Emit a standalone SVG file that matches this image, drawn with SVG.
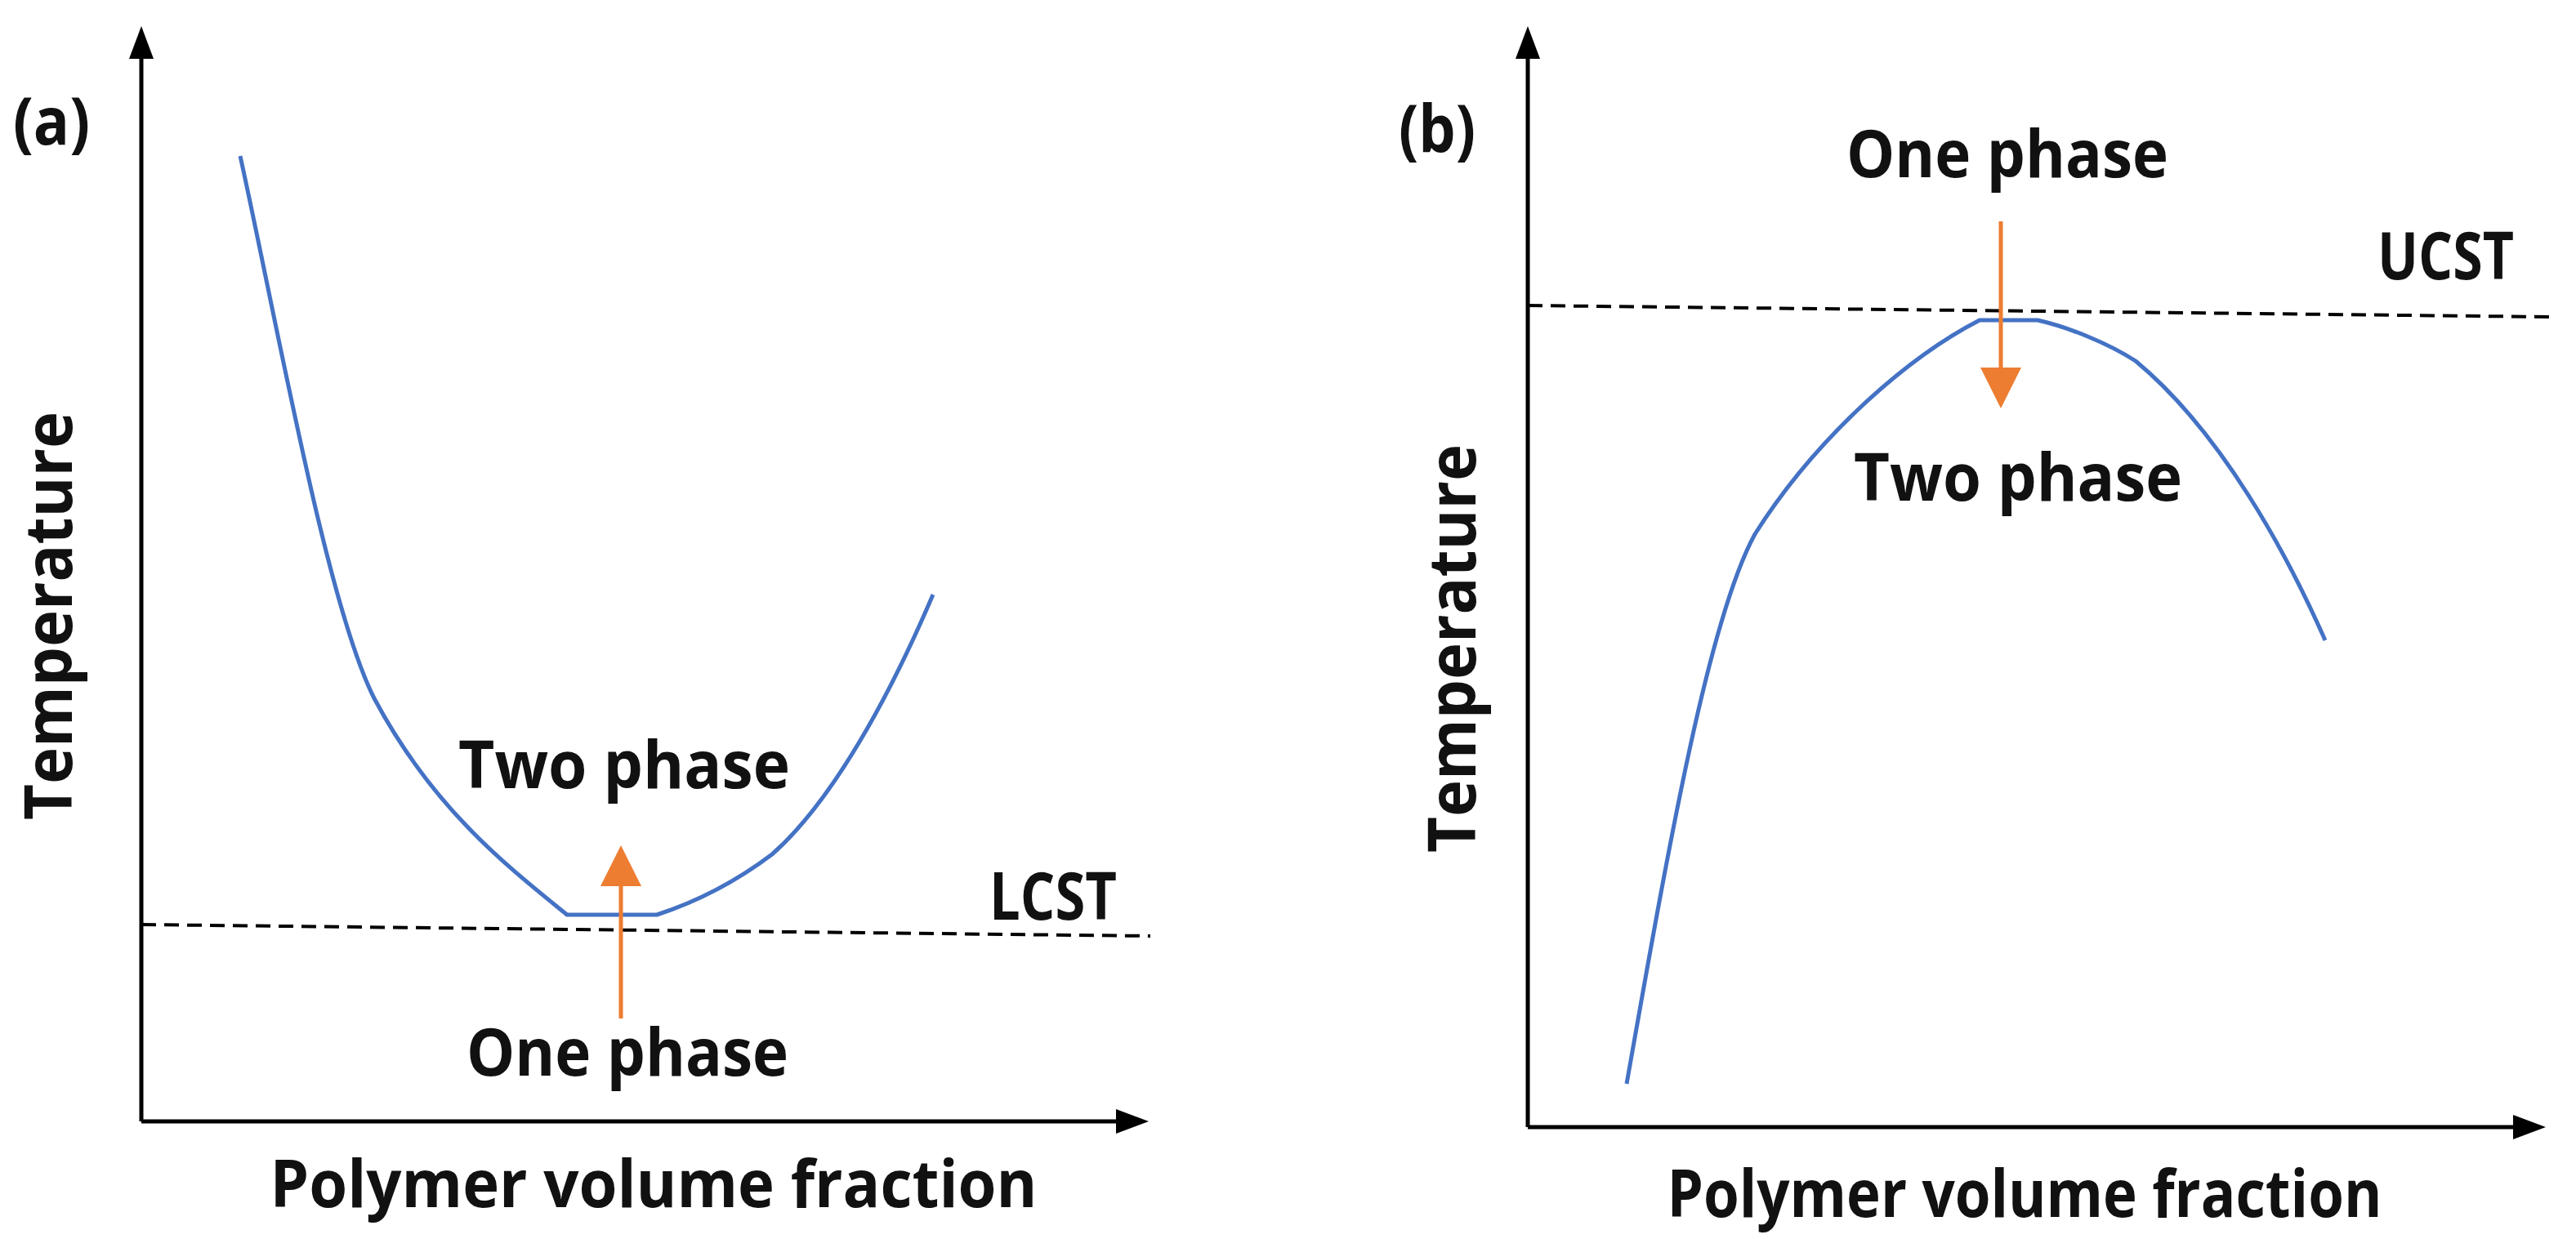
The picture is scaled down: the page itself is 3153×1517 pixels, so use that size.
<svg xmlns="http://www.w3.org/2000/svg" width="3153" height="1517" viewBox="0 0 3153 1517">
<style>
.t{font-family:"Open Sans","Liberation Sans",sans-serif;font-weight:700;font-size:80px;fill:#111}
.ax{stroke:#000;stroke-width:5;fill:none}
.cv{stroke:#4472C4;stroke-width:5;fill:none}
.ds{stroke:#000;stroke-width:4;stroke-dasharray:18 10;fill:none}
.or{stroke:#ED7D31;stroke-width:5;fill:none}
</style>
<defs>
<marker id="oh" viewBox="0 0 10 10" refX="9" refY="5" markerWidth="10" markerHeight="10" orient="auto"><path d="M0,0 L10,5 L0,10 z" fill="#ED7D31"/></marker>
</defs>
<g id="panel-a">
<path class="ax" d="M173,1373 L173,50"/>
<path d="M173,32 L158,72 L188,72 z"/>
<path class="ax" d="M173,1373 L1370,1373"/>
<path d="M1406,1373 L1366,1358 L1366,1388 z"/>
<path class="cv" d="M294,191 C340,400 400,740 458,855 C530,990 620,1060 694,1120 L804,1120 C850,1105 900,1080 945,1046 C1020,980 1090,850 1142,728"/>
<path class="ds" d="M173,1132 L1408,1146"/>
<path class="or" d="M760,1247 L760,1040" marker-end="url(#oh)"/>
<text class="t" x="16" y="177" textLength="94" lengthAdjust="spacingAndGlyphs">(a)</text>
<text class="t" x="1211" y="1126" textLength="156" lengthAdjust="spacingAndGlyphs">LCST</text>
<text class="t" x="764" y="965" text-anchor="middle" textLength="406" lengthAdjust="spacingAndGlyphs">Two phase</text>
<text class="t" x="768" y="1317" text-anchor="middle" textLength="394" lengthAdjust="spacingAndGlyphs">One phase</text>
<text class="t" x="800" y="1478" text-anchor="middle" textLength="939" lengthAdjust="spacingAndGlyphs">Polymer volume fraction</text>
<text class="t" transform="translate(88,754) rotate(-90)" text-anchor="middle" textLength="500" lengthAdjust="spacingAndGlyphs">Temperature</text>
</g>
<g id="panel-b">
<path class="ax" d="M1870,1380 L1870,50"/>
<path d="M1870,32 L1855,72 L1885,72 z"/>
<path class="ax" d="M1870,1380 L3080,1380"/>
<path d="M3116,1380 L3076,1365 L3076,1395 z"/>
<path class="cv" d="M1991,1327 C2040,1050 2090,760 2148,654 C2220,540 2330,440 2423,392 L2494,392 C2530,400 2580,420 2614,442 C2720,530 2800,680 2846,784"/>
<path class="ds" d="M1870,374 L3123,388"/>
<path class="or" d="M2449,271 L2449,495" marker-end="url(#oh)"/>
<text class="t" x="1712" y="186" textLength="94" lengthAdjust="spacingAndGlyphs">(b)</text>
<text class="t" x="2910" y="342" textLength="167" lengthAdjust="spacingAndGlyphs">UCST</text>
<text class="t" x="2457" y="217" text-anchor="middle" textLength="394" lengthAdjust="spacingAndGlyphs">One phase</text>
<text class="t" x="2470" y="613" text-anchor="middle" textLength="402" lengthAdjust="spacingAndGlyphs">Two phase</text>
<text class="t" x="2478" y="1490" text-anchor="middle" textLength="875" lengthAdjust="spacingAndGlyphs">Polymer volume fraction</text>
<text class="t" transform="translate(1806,794) rotate(-90)" text-anchor="middle" textLength="500" lengthAdjust="spacingAndGlyphs">Temperature</text>
</g>
<g id="connectors"></g>
</svg>
